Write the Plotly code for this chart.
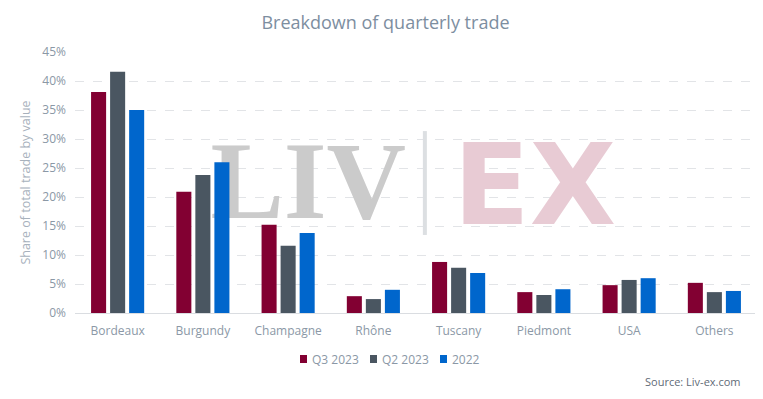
import plotly.graph_objects as go

categories = ["Bordeaux", "Burgundy", "Champagne", "Rhône", "Tuscany", "Piedmont", "USA", "Others"]
q3_2023 = [38.1, 20.9, 15.2, 2.9, 8.8, 3.6, 4.8, 5.2]
q2_2023 = [41.6, 23.8, 11.6, 2.4, 7.8, 3.1, 5.7, 3.6]
y2022 = [35.0, 26.0, 13.8, 4.0, 6.9, 4.1, 6.0, 3.8]
series_names = ["Q3 2023", "Q2 2023", "2022"]
y_ticks = [0, 5, 10, 15, 20, 25, 30, 35, 40, 45]
y_tick_labels = [f"{v}%" for v in y_ticks]

colors = ["#820032", "#4A5661", "#0066CC"]
FONT = "Open Sans, Noto Sans, sans-serif"
TXT = "#8B98A6"

fig = go.Figure()

# Watermark on the base subplot (drawn beneath the bars on the overlay subplot)
fig.add_trace(go.Scatter(x=[0.342], y=[0.468], mode="text", text=["<b>LIV</b>"], textposition="middle center",
                         textfont=dict(family="Liberation Serif, DejaVu Serif, serif", size=110, color="#CBCBCB"),
                         hoverinfo="skip", showlegend=False, xaxis="x", yaxis="y"))
fig.add_trace(go.Scatter(x=[0.674], y=[0.448], mode="text", text=["<b>EX</b>"], textposition="middle center",
                         textfont=dict(family="DejaVu Sans, sans-serif", size=112, color="#E8CBD4"),
                         hoverinfo="skip", showlegend=False, xaxis="x", yaxis="y"))
fig.add_trace(go.Scatter(x=[0.513, 0.513], y=[0.299, 0.697], mode="lines",
                         line=dict(color="#DCDFE2", width=4),
                         hoverinfo="skip", showlegend=False, xaxis="x", yaxis="y"))

for name, vals, c in zip(series_names, [q3_2023, q2_2023, y2022], colors):
    fig.add_trace(go.Bar(x=categories, y=vals, name=name, marker=dict(color=c, line=dict(width=0)),
                         xaxis="x2", yaxis="y2", showlegend=False))

# Compact legend (squares + labels)
legend_sq_x = [(300 - 75) / 682, (370 - 75) / 682, (440 - 75) / 682]
sq_w = 7 / 682
sq_h = 8 / 261
leg_y = (313 - 359) / 261
shapes = []
annotations = []
for name, c, sx in zip(series_names, colors, legend_sq_x):
    shapes.append(dict(type="rect", xref="paper", yref="paper", x0=sx, x1=sx + sq_w,
                       y0=leg_y - sq_h / 2, y1=leg_y + sq_h / 2,
                       fillcolor=c, line=dict(width=0)))
    annotations.append(dict(text=name, xref="paper", yref="paper", x=sx + 10 / 682, y=leg_y,
                            xanchor="left", yanchor="middle", showarrow=False,
                            font=dict(size=12, color=TXT)))

annotations.append(dict(text="Source: Liv-ex.com", xref="paper", yref="paper", x=0.979, y=-0.264,
                        xanchor="right", yanchor="middle", showarrow=False,
                        font=dict(size=11, color="#5F6B77")))

# page body has an 8px margin, so the figure is drawn 8px smaller and offset
fig.update_layout(
    width=755, height=391,
    margin=dict(l=67, r=6, t=44, b=86, autoexpand=False),
    paper_bgcolor="white", plot_bgcolor="white",
    barmode="group", bargap=0.33, bargroupgap=0.21,
    font=dict(family=FONT, color=TXT, size=12),
    title=dict(text="Breakdown of quarterly trade", x=0.5, xanchor="center",
               y=0.962, yanchor="middle",
               font=dict(family=FONT, size=18, color="#7D8E9F")),
    showlegend=False,
    xaxis=dict(range=[0, 1], visible=False, fixedrange=True),
    yaxis=dict(range=[0, 1], visible=False, fixedrange=True),
    xaxis2=dict(overlaying="x", side="bottom", showgrid=False, showline=True,
                linecolor="#DADDE1", linewidth=1, ticks="", ticklabelstandoff=7,
                tickfont=dict(size=12, color=TXT)),
    yaxis2=dict(overlaying="y", side="left", range=[0, 45], tickvals=y_ticks, ticktext=y_tick_labels,
                showgrid=True, gridcolor="#E2E4E7", griddash="dash", gridwidth=1,
                zeroline=False, showline=False, ticks="", ticklen=0,
                ticklabelstandoff=8,
                tickfont=dict(size=12, color=TXT),
                title=dict(text="Share of total trade by value", standoff=8,
                           font=dict(size=12.5, color="#A7B1BC"))),
    shapes=shapes,
    annotations=annotations,
)

fig.write_html("out.html")
